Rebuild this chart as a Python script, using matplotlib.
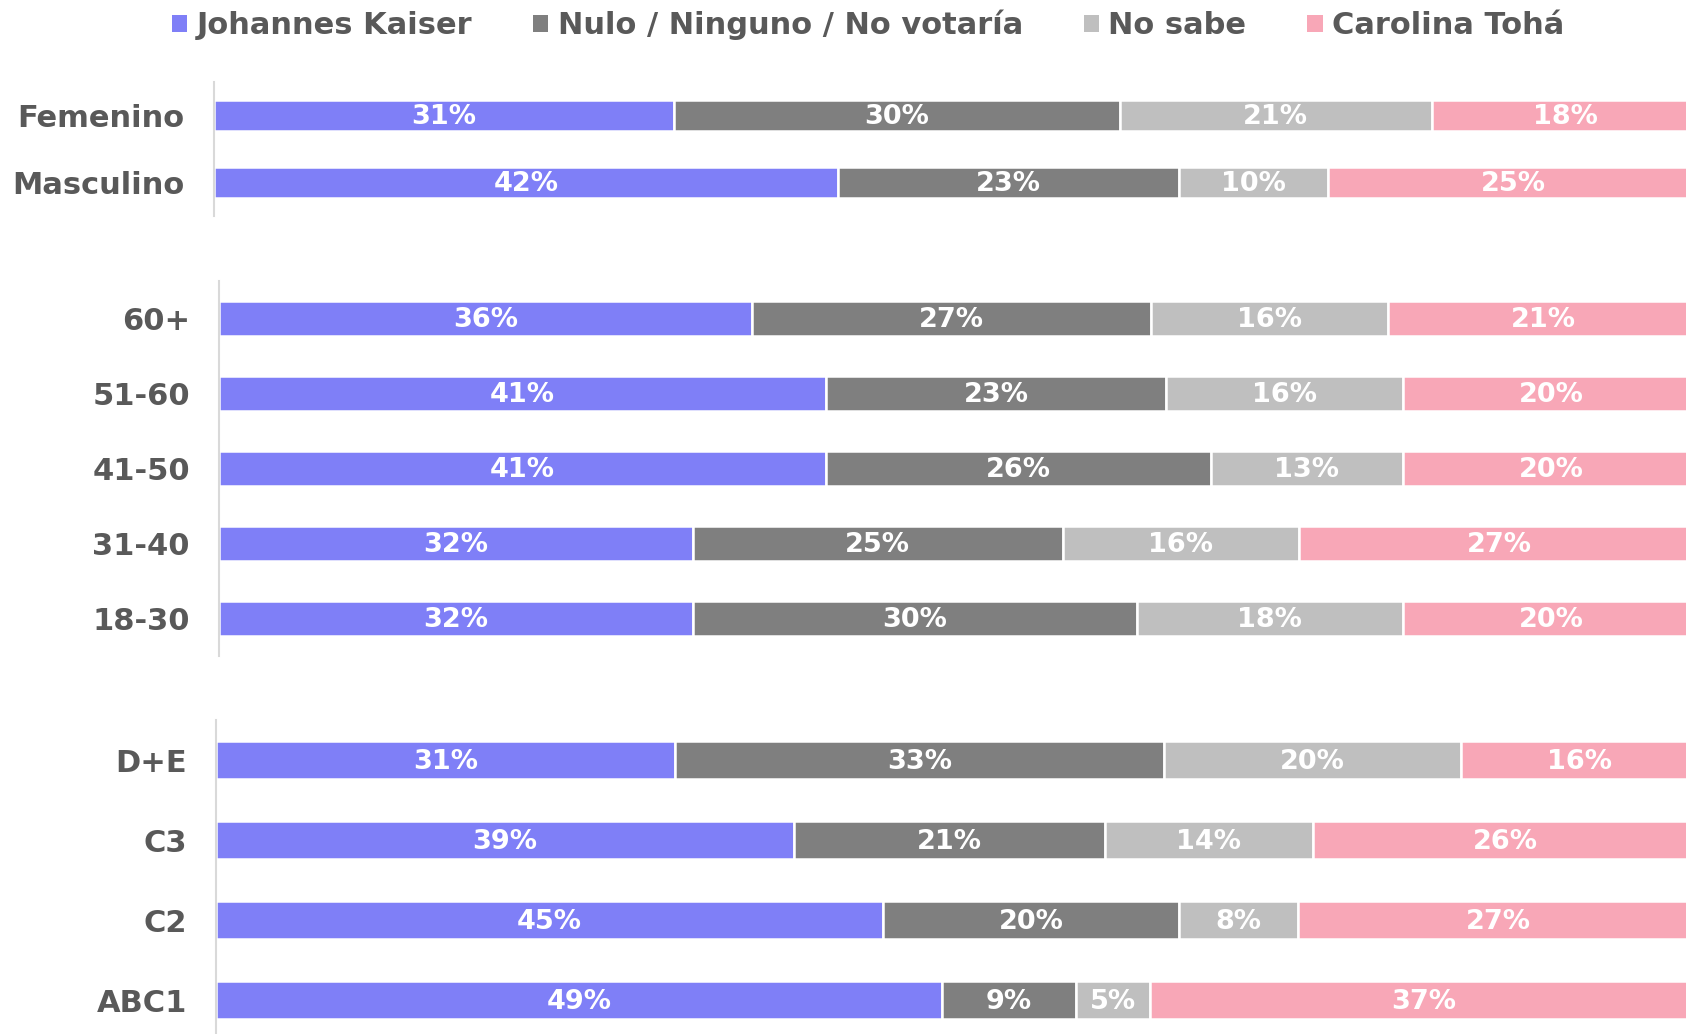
#!/usr/bin/env python3

import matplotlib
matplotlib.use("Agg")
import matplotlib.pyplot as plt
import numpy as np
from matplotlib.patches import Patch


SERIES = ["Johannes Kaiser", "Nulo / Ninguno / No votaría", "No sabe", "Carolina Tohá"]
COLORS = ["#7f7ff7", "#7f7f7f", "#bfbfbf", "#f8a7b7"]

sexo_labels = ["Femenino", "Masculino"]
sexo_values = [
    [31, 30, 21, 18],
    [42, 23, 10, 25],
]

edad_labels = ["60+", "51-60", "41-50", "31-40", "18-30"]
edad_values = [
    [36, 27, 16, 21],
    [41, 23, 16, 20],
    [41, 26, 13, 20],
    [32, 25, 16, 27],
    [32, 30, 18, 20],
]

gse_labels = ["D+E", "C3", "C2", "ABC1"]
gse_values = [
    [31, 33, 20, 16],
    [39, 21, 14, 26],
    [45, 20, 8, 27],
    [49, 9, 5, 37],
]

W, H = 1686, 1034
FONT = "DejaVu Sans"
TEXT_GRAY = "#595959"


def px_axes(fig, left, top, width, height):
    """Add an axes given pixel coordinates (top-left origin)."""
    return fig.add_axes([left / W, 1 - (top + height) / H, width / W, height / H])


def draw_group(ax, labels, values, bar_height):
    data = np.array(values, dtype=float)
    y = np.arange(len(labels))
    left = np.zeros(len(labels))
    for j in range(data.shape[1]):
        bars = ax.barh(y, data[:, j], left=left, height=bar_height,
                       color=COLORS[j], edgecolor="white", linewidth=1.8)
        for rect, v in zip(bars, data[:, j]):
            ax.text(rect.get_x() + rect.get_width() / 2,
                    rect.get_y() + rect.get_height() / 2 + 0.02,
                    f"{int(v)}%", ha="center", va="center",
                    color="white", fontsize=19.5, fontweight="bold",
                    family=FONT)
        left += data[:, j]

    ax.set_xlim(0, 100)
    ax.set_ylim(len(labels) - 0.5, -0.5)
    ax.set_yticks(y)
    ax.set_yticklabels(labels, fontsize=22, fontweight="bold",
                       color=TEXT_GRAY, family=FONT)
    ax.tick_params(axis="y", length=0, pad=21)
    ax.set_xticks([])
    for side in ["top", "right", "bottom"]:
        ax.spines[side].set_visible(False)
    ax.spines["left"].set_color("#d9d9d9")
    ax.spines["left"].set_linewidth(1.5)


def main() -> None:
    fig = plt.figure(figsize=(W / 100, H / 100), dpi=100)
    fig.patch.set_facecolor("white")

    ax1 = px_axes(fig, 214, 82, 1485, 134)
    draw_group(ax1, sexo_labels, sexo_values, 0.46)

    ax2 = px_axes(fig, 219, 281, 1480, 375)
    draw_group(ax2, edad_labels, edad_values, 0.46)

    ax3 = px_axes(fig, 216, 720, 1482, 320)
    draw_group(ax3, gse_labels, gse_values, 0.47)

    handles = [Patch(facecolor=c, edgecolor="none") for c in COLORS]
    fig.legend(handles, SERIES, loc="center", ncol=4,
               bbox_to_anchor=(868 / W, 1 - 25 / H), frameon=False,
               prop={"family": FONT, "weight": "bold", "size": 22},
               labelcolor=TEXT_GRAY, handlelength=0.5, handleheight=0.5,
               handletextpad=0.3, columnspacing=2.0)

    fig.savefig("out.png", dpi=100, facecolor="white")
    plt.close(fig)


if __name__ == "__main__":
    main()
